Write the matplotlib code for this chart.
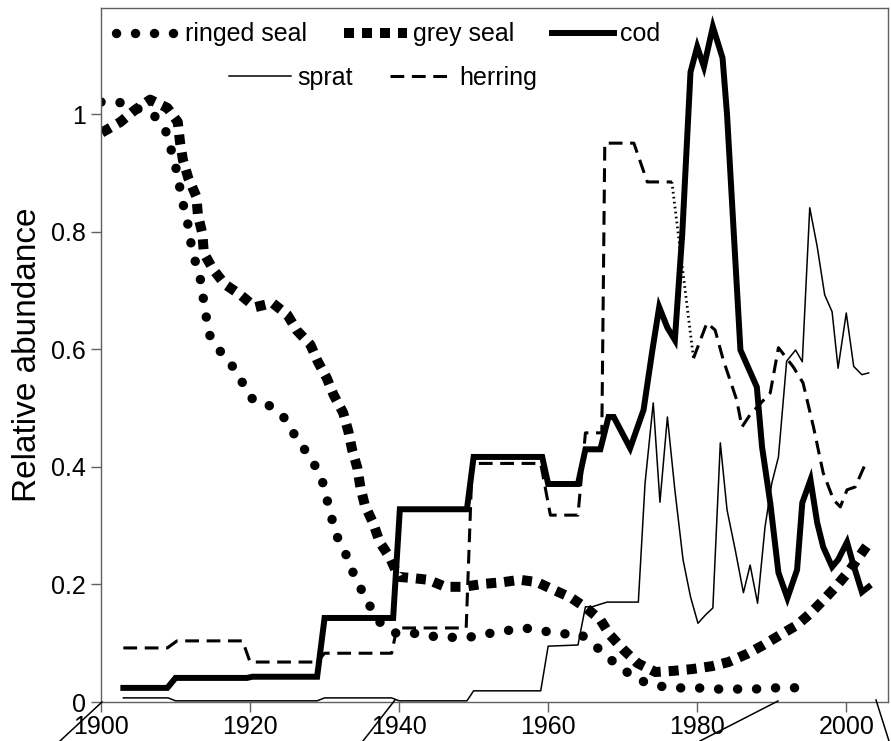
import numpy as np
import matplotlib
matplotlib.use("Agg")
import matplotlib.pyplot as plt
from matplotlib.lines import Line2D

plt.rcParams['font.family'] = ['Liberation Sans', 'DejaVu Sans']

# ringed seal
ringed_x = [1900, 1902.6, 1907, 1908.6, 1909.3, 1910, 1910.5, 1911, 1911.6, 1912, 1912.6,
            1913.3, 1913.7, 1914.1, 1914.5, 1915.8, 1917.6, 1919, 1920.4, 1922.5, 1924.4,
            1925.8, 1927.2, 1928.6, 1929.7, 1930.3, 1930.9, 1931.7, 1932.9, 1933.8, 1934.9,
            1936.1, 1937.4, 1939.6, 1941.9, 1944.3, 1946.7, 1949.3, 1951.8, 1954.2, 1956.8,
            1959.2, 1961.9, 1964.3, 1966.2, 1968.1, 1970.2, 1972.2, 1974.9, 1977.4, 1980,
            1982.5, 1985.1, 1987.7, 1990.2, 1992.9, 1995.3]
ringed_y = [1.021, 1.02, 1.0, 0.975, 0.945, 0.912, 0.88, 0.848, 0.817, 0.785, 0.752,
            0.722, 0.689, 0.657, 0.626, 0.6, 0.572, 0.543, 0.514, 0.505, 0.487,
            0.458, 0.432, 0.405, 0.376, 0.346, 0.315, 0.281, 0.25, 0.221, 0.192,
            0.163, 0.136, 0.117, 0.117, 0.112, 0.11, 0.11, 0.116, 0.121, 0.126,
            0.121, 0.116, 0.116, 0.097, 0.075, 0.054, 0.037, 0.027, 0.024, 0.024,
            0.022, 0.022, 0.022, 0.024, 0.024, 0.027]

# grey seal
grey_x = [1900.1, 1902.6, 1904.6, 1906.6, 1908.9, 1910.3, 1910.6, 1911, 1911.7, 1912.8, 1913,
          1913.6, 1913.8, 1915, 1916.6, 1918.7, 1920.7, 1923, 1925, 1926.3, 1928.1, 1929.1,
          1930.3, 1931.2, 1932.5, 1933.2, 1933.7, 1934.4, 1934.8, 1935.4, 1936.5, 1937.4,
          1938.8, 1939.9, 1941.7, 1943.9, 1946.2, 1948.6, 1951.3, 1954, 1956.2, 1958.5,
          1960.7, 1963, 1965, 1967, 1968.3, 1970.1, 1972, 1974.4, 1976.8, 1979.3, 1982,
          1984.2, 1986.7, 1988.9, 1991.1, 1993.4, 1995.2, 1997.2, 1998.8, 2000.5, 2002.1, 2003]
grey_y = [0.969, 0.987, 1.008, 1.025, 1.011, 0.987, 0.953, 0.922, 0.892, 0.86, 0.829,
          0.797, 0.764, 0.737, 0.711, 0.693, 0.672, 0.679, 0.659, 0.632, 0.608, 0.579,
          0.551, 0.523, 0.492, 0.46, 0.429, 0.398, 0.366, 0.335, 0.305, 0.272,
          0.245, 0.213, 0.211, 0.208, 0.196, 0.196, 0.201, 0.204, 0.208, 0.204,
          0.191, 0.178, 0.161, 0.14, 0.114, 0.089, 0.066, 0.051, 0.053, 0.056, 0.061,
          0.068, 0.082, 0.097, 0.114, 0.131, 0.151, 0.177, 0.199, 0.225, 0.254, 0.27]

# cod
cod_x = [1903, 1908.9, 1910, 1919.6, 1920.3, 1929, 1930, 1939.2, 1940.1, 1949.1, 1950,
         1959.2, 1960, 1964, 1965, 1967, 1968.1, 1968.8, 1971, 1972.8, 1974, 1974.9, 1976,
         1977, 1978, 1979.1, 1980, 1980.9, 1982.1, 1983.4, 1984, 1985.8, 1988, 1988.7,
         1989.8, 1990.9, 1992.1, 1993.4, 1994.1, 1995.2, 1996.1, 1996.9, 1998.1, 1998.9,
         2000.1, 2000.9, 2002.1, 2003]
cod_y = [0.024, 0.024, 0.041, 0.041, 0.043, 0.043, 0.143, 0.143, 0.328, 0.328, 0.417,
         0.417, 0.371, 0.371, 0.43, 0.43, 0.485, 0.485, 0.432, 0.497, 0.6, 0.672, 0.637,
         0.616, 0.798, 1.072, 1.115, 1.081, 1.149, 1.096, 1.0, 0.599, 0.536, 0.434,
         0.339, 0.22, 0.177, 0.225, 0.339, 0.378, 0.305, 0.264, 0.23, 0.242,
         0.272, 0.236, 0.187, 0.196]

# sprat
sprat_x = [1903, 1909, 1910, 1929, 1930, 1939, 1940, 1949.1, 1950, 1959, 1960, 1964, 1965,
           1965.9, 1967.9, 1972.1, 1973, 1974.1, 1975, 1976, 1977, 1978.1, 1979.1, 1980.1,
           1981.1, 1982.1, 1983.1, 1984, 1985.1, 1986.2, 1987.1, 1988.1, 1989.1, 1990,
           1990.9, 1992, 1993.2, 1994.1, 1995.1, 1996.1, 1997.1, 1998.1, 1998.9, 2000,
           2001, 2002.1, 2003]
sprat_y = [0.007, 0.007, 0.002, 0.002, 0.007, 0.007, 0.002, 0.002, 0.019, 0.019, 0.095, 0.097, 0.162,
           0.162, 0.17, 0.17, 0.372, 0.509, 0.34, 0.485, 0.361, 0.242, 0.179, 0.134,
           0.148, 0.16, 0.441, 0.327, 0.259, 0.186, 0.233, 0.168, 0.298, 0.372,
           0.417, 0.58, 0.599, 0.579, 0.841, 0.775, 0.693, 0.664, 0.568, 0.662,
           0.571, 0.557, 0.56]

# herring (gap 1977-1979 drawn dotted)
herring_x = [1903, 1908.9, 1910.2, 1919, 1920, 1929, 1930, 1939, 1939.7, 1949, 1949.8, 1959,
             1960.3, 1964, 1965, 1967.2, 1967.6, 1971.5, 1973.3, 1976.6, 1978, 1979.5, 1981.3,
             1982.4, 1983.5, 1985.3, 1986, 1987.1, 1989.8, 1990.9, 1992.9, 1994.2, 1995.6,
             1996.9, 1998.3, 1999.2, 2000.1, 2001.2, 2002.8]
herring_y = [0.092, 0.092, 0.104, 0.104, 0.068, 0.068, 0.083, 0.083, 0.126, 0.126, 0.406, 0.406,
             0.318, 0.318, 0.458, 0.458, 0.951, 0.951, 0.885, 0.885, np.nan, 0.585, 0.645,
             0.633, 0.582, 0.514, 0.468, 0.489, 0.526, 0.603, 0.57, 0.543, 0.468,
             0.39, 0.344, 0.332, 0.361, 0.366, 0.412]
herring_gap_x = [1976.6, 1979.5]
herring_gap_y = [0.885, 0.585]

fig = plt.figure(figsize=(8.91, 7.41), dpi=100)
ax = fig.add_axes([101 / 891, 39 / 741, 787 / 891, 694 / 741])

ringed_style = dict(color='black', lw=6.8, linestyle=(0, (0.01, 2.0)), dash_capstyle='round')
grey_style = dict(color='black', lw=7.2, linestyle=(0, (1.0, 0.8)), dash_capstyle='butt')
herring_style = dict(color='black', lw=2.2, linestyle=(0, (4.5, 2.5)))

ax.plot(sprat_x, sprat_y, color='black', lw=1.1)
ax.plot(herring_x, herring_y, **herring_style)
ax.plot(herring_gap_x, herring_gap_y, color='black', lw=2.0, linestyle=(0, (0.6, 1.2)))
ax.plot(cod_x, cod_y, color='black', lw=4.3, solid_joinstyle='miter')
ax.plot(ringed_x, ringed_y, **ringed_style)
ax.plot(grey_x, grey_y, **grey_style)

ax.set_xlim(1900, 2005.6)
ax.set_ylim(0, 1.181)
ax.set_xticks([1900, 1920, 1940, 1960, 1980, 2000])
ax.set_yticks([0, 0.2, 0.4, 0.6, 0.8, 1.0])
ax.set_yticklabels(['0', '0.2', '0.4', '0.6', '0.8', '1'])
ax.tick_params(labelsize=18, length=7, width=1, color='#606060', direction='out')
ax.tick_params(axis='x', pad=2)
ax.tick_params(axis='y', pad=4)
for s in ax.spines.values():
    s.set_color('#606060')
    s.set_linewidth(1)
ax.set_ylabel('Relative abundance', fontsize=24, labelpad=6)

# legends
h1 = [Line2D([], [], **ringed_style),
      Line2D([], [], **grey_style),
      Line2D([], [], color='black', lw=4.3)]
leg1 = ax.legend(h1, ['ringed seal', 'grey seal', 'cod'], loc='center',
                 bbox_to_anchor=(0.365, 0.962), ncol=3, frameon=False, fontsize=18,
                 handlelength=2.5, handletextpad=0.25, columnspacing=1.5, borderpad=0)
ax.add_artist(leg1)
h2 = [Line2D([], [], color='black', lw=1.1),
      Line2D([], [], **herring_style)]
ax.legend(h2, ['sprat', 'herring'], loc='center', bbox_to_anchor=(0.358, 0.899),
          ncol=2, frameon=False, fontsize=18, handlelength=2.5, handletextpad=0.25,
          columnspacing=1.5, borderpad=0)

# slanted marks below the axis
for (x0, y0, x1, y1) in [(60, 741, 102, 702), (363, 741, 395, 700),
                         (700, 741, 778, 701), (876, 700, 889, 741)]:
    fig.add_artist(Line2D([x0 / 891, x1 / 891], [1 - y0 / 741, 1 - y1 / 741],
                          transform=fig.transFigure, color='black', lw=1.1))

fig.savefig('out.png', dpi=100)
